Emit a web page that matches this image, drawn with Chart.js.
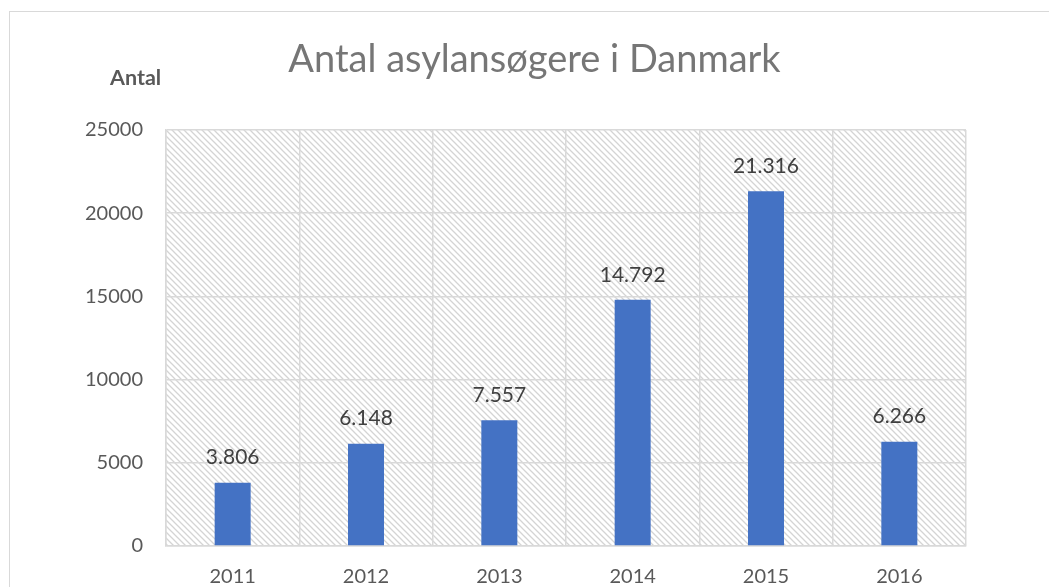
<!DOCTYPE html>
<html>
<head>
<meta charset="utf-8">
<script src="https://cdn.jsdelivr.net/npm/chart.js@4/dist/chart.umd.min.js"></script>
<style>
  html, body { margin: 0; padding: 0; width: 1049px; height: 587px; overflow: hidden; background: #ffffff; }
  #frame { position: absolute; left: 9px; top: 11px; width: 1100px; height: 640px; border: 1px solid #d9d9d9; box-sizing: border-box; }
  #wrap { position: absolute; left: 0; top: 0; width: 1069px; height: 600px; }
</style>
</head>
<body>
<div id="frame"></div>
<div id="wrap"><canvas id="c" width="1069" height="600"></canvas></div>
<script>
const years = ['2011', '2012', '2013', '2014', '2015', '2016'];
const applicants = [3806, 6148, 7557, 14792, 21316, 6266];
const yTicks = [0, 5000, 10000, 15000, 20000, 25000];
const chartTitle = 'Antal asylansøgere i Danmark';
const yAxisLabel = 'Antal';

function fmtDa(v) {
  return String(v).replace(/\B(?=(\d{3})+(?!\d))/g, '.');
}

function makeHatch() {
  const s = 6;
  const c = document.createElement('canvas');
  c.width = s; c.height = s;
  const g = c.getContext('2d');
  g.fillStyle = '#ffffff';
  g.fillRect(0, 0, s, s);
  g.strokeStyle = '#d4d4d4';
  g.lineWidth = 1.3;
  g.beginPath();
  g.moveTo(-1, -1); g.lineTo(s + 1, s + 1);
  g.moveTo(-1, s - 1); g.lineTo(1, s + 1);
  g.moveTo(s - 1, -1); g.lineTo(s + 1, 1);
  g.stroke();
  return c;
}

const hatchPlugin = {
  id: 'hatch',
  beforeDraw(chart) {
    const { ctx, chartArea: a } = chart;
    ctx.save();
    ctx.fillStyle = ctx.createPattern(makeHatch(), 'repeat');
    ctx.fillRect(a.left, a.top, a.right - a.left, a.bottom - a.top);
    ctx.restore();
  }
};

const textPlugin = {
  id: 'texts',
  afterDatasetsDraw(chart) {
    const { ctx } = chart;
    const meta = chart.getDatasetMeta(0);
    ctx.save();
    ctx.textBaseline = 'middle';
    // data labels
    ctx.font = '21px Lato';
    ctx.fillStyle = '#404040';
    ctx.textAlign = 'center';
    meta.data.forEach((bar, i) => {
      ctx.fillText(fmtDa(chart.data.datasets[0].data[i]), bar.x, bar.y - 25);
    });
    // title
    ctx.font = '400 38px Lato';
    ctx.fillStyle = '#767676';
    ctx.textAlign = 'center';
    ctx.fillText(chartTitle, 534.5, 60);
    // axis label
    ctx.font = 'bold 21.5px Lato';
    ctx.fillStyle = '#595959';
    ctx.textAlign = 'left';
    ctx.fillText(yAxisLabel, 110, 78);
    ctx.restore();
  }
};

new Chart(document.getElementById('c'), {
  type: 'bar',
  data: {
    labels: years,
    datasets: [{
      data: applicants,
      backgroundColor: '#4472C4',
      borderWidth: 0,
      barPercentage: 0.27,
      categoryPercentage: 1.0
    }]
  },
  options: {
    responsive: false,
    animation: false,
    layout: { padding: { left: 0, right: 103, top: 130, bottom: 0 } },
    plugins: {
      legend: { display: false },
      tooltip: { enabled: false },
      title: { display: false }
    },
    scales: {
      x: {
        grid: { color: '#d9d9d9', lineWidth: 1.5, drawTicks: false, offset: true },
        border: { color: '#d9d9d9', width: 1.5 },
        ticks: { color: '#595959', font: { family: 'Lato', size: 20 }, padding: 19 },
        afterFit(scale) { scale.height = 54; }
      },
      y: {
        min: 0,
        max: 25000,
        afterBuildTicks(scale) { scale.ticks = yTicks.map(v => ({ value: v })); },
        grid: { color: '#d9d9d9', lineWidth: 1.5, drawTicks: false },
        border: { color: '#d9d9d9', width: 1.5 },
        ticks: { color: '#595959', font: { family: 'Lato', size: 20 }, padding: 23, callback: v => String(v) },
        afterFit(scale) { scale.width = 166; }
      }
    }
  },
  plugins: [hatchPlugin, textPlugin]
});
</script>
</body>
</html>
